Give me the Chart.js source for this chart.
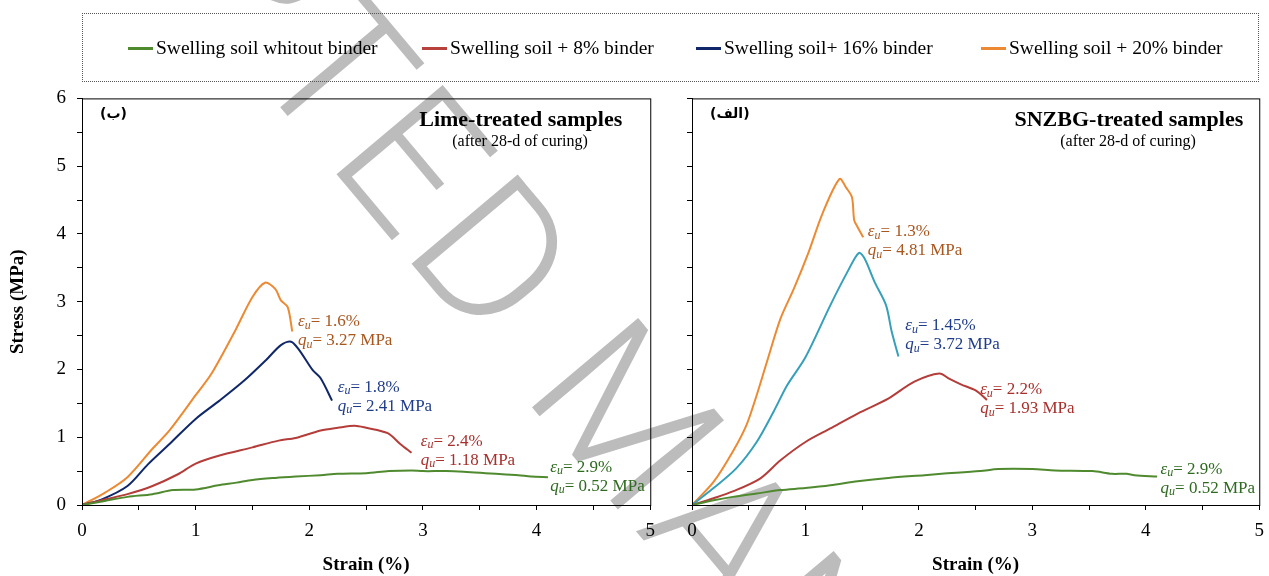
<!DOCTYPE html>
<html>
<head>
<meta charset="utf-8">
<script src="https://cdn.jsdelivr.net/npm/chart.js@4.4.1/dist/chart.umd.min.js"></script>
<style>
body { margin: 0; width: 1269px; height: 576px; position: relative; overflow: hidden; background: #fff; font-family: "Liberation Serif", "Times New Roman", serif; }
#mark { position: absolute; left: 0; top: 0; }
#left { position: absolute; left: 0; top: 76px; }
#right { position: absolute; left: 660px; top: 76px; }
.legend { position: absolute; left: 82px; top: 13px; width: 1175px; height: 67px; border: 1px dotted #555; }
.item { position: absolute; top: 23px; font-size: 19.5px; color: #000; white-space: nowrap; }
.item i { display: inline-block; width: 25px; height: 3px; vertical-align: middle; margin-right: 3px; position: relative; top: -1px; }
</style>
</head>
<body>
<canvas id="mark" width="1269" height="576"></canvas>
<div class="legend">
  <div class="item" style="left:45px"><i style="background:#4f8a2f"></i>Swelling soil whitout binder</div>
  <div class="item" style="left:339px"><i style="background:#b8403d"></i>Swelling soil + 8% binder</div>
  <div class="item" style="left:613px"><i style="background:#10286a"></i>Swelling soil+ 16% binder</div>
  <div class="item" style="left:898px"><i style="background:#ec8a33"></i>Swelling soil + 20% binder</div>
</div>
<canvas id="left" width="665" height="500"></canvas>
<canvas id="right" width="614" height="500"></canvas>
<script>
// tick values
const strainTicks = [0, 1, 2, 3, 4, 5];
const stressTicks = [0, 1, 2, 3, 4, 5, 6];

// lime-treated samples (left)
const limeStrain0 = [0, 0.1, 0.2, 0.4, 0.62, 0.8, 1.0, 1.2, 1.36, 1.5, 1.7, 1.88, 2.1, 2.25, 2.5, 2.7, 2.9, 3.0, 3.2, 3.36, 3.55, 3.73, 3.84, 3.95, 4.1];
const limeStress0 = [0, 0.03, 0.06, 0.12, 0.16, 0.22, 0.23, 0.29, 0.33, 0.37, 0.40, 0.42, 0.44, 0.46, 0.47, 0.50, 0.51, 0.50, 0.50, 0.49, 0.47, 0.45, 0.44, 0.42, 0.41];
const limeStrain8 = [0, 0.1, 0.2, 0.4, 0.62, 0.84, 1.0, 1.21, 1.5, 1.73, 1.88, 2.1, 2.25, 2.4, 2.5, 2.69, 2.8, 2.9];
const limeStress8 = [0, 0.04, 0.08, 0.16, 0.28, 0.45, 0.61, 0.73, 0.85, 0.95, 0.99, 1.10, 1.14, 1.17, 1.14, 1.06, 0.90, 0.77];
const limeStrain16 = [0, 0.17, 0.4, 0.58, 0.77, 1.0, 1.21, 1.43, 1.62, 1.75, 1.84, 1.91, 2.03, 2.1, 2.2];
const limeStress16 = [0, 0.08, 0.28, 0.60, 0.90, 1.27, 1.54, 1.84, 2.14, 2.36, 2.41, 2.29, 1.99, 1.87, 1.54];
const limeStrain20 = [0, 0.2, 0.4, 0.62, 0.77, 1.0, 1.14, 1.35, 1.5, 1.61, 1.70, 1.75, 1.81, 1.85];
const limeStress20 = [0, 0.18, 0.41, 0.83, 1.10, 1.62, 1.94, 2.58, 3.07, 3.28, 3.19, 3.02, 2.92, 2.56];

// SNZBG-treated samples (right)
const snzStrain0 = [0, 0.19, 0.36, 0.57, 0.78, 1.0, 1.22, 1.46, 1.73, 2.05, 2.2, 2.54, 2.7, 3.0, 3.2, 3.53, 3.7, 3.83, 3.9, 4.1];
const snzStress0 = [0, 0.07, 0.12, 0.17, 0.22, 0.25, 0.29, 0.35, 0.40, 0.44, 0.46, 0.50, 0.53, 0.53, 0.51, 0.50, 0.46, 0.46, 0.44, 0.42];
const snzStrain8 = [0, 0.19, 0.36, 0.6, 0.78, 1.0, 1.22, 1.46, 1.73, 1.96, 2.18, 2.27, 2.37, 2.5, 2.6];
const snzStress8 = [0, 0.10, 0.20, 0.39, 0.66, 0.93, 1.13, 1.35, 1.57, 1.82, 1.94, 1.86, 1.78, 1.69, 1.55];
const snzStrain16 = [0, 0.19, 0.39, 0.57, 0.72, 0.84, 1.0, 1.22, 1.37, 1.47, 1.52, 1.61, 1.71, 1.76, 1.82];
const snzStress16 = [0, 0.25, 0.54, 0.93, 1.38, 1.77, 2.18, 2.95, 3.44, 3.72, 3.64, 3.29, 2.95, 2.56, 2.19];
const snzStrain20 = [0, 0.19, 0.36, 0.48, 0.57, 0.66, 0.78, 0.9, 1.03, 1.15, 1.30, 1.36, 1.41, 1.43, 1.46, 1.51];
const snzStress20 = [0, 0.34, 0.79, 1.18, 1.62, 2.11, 2.75, 3.2, 3.74, 4.30, 4.81, 4.68, 4.54, 4.20, 4.10, 3.95];

// peak values written next to each curve
const limeEps = ['1.6%', '1.8%', '2.4%', '2.9%'];
const limeQu = ['3.27 MPa', '2.41 MPa', '1.18 MPa', '0.52 MPa'];
const snzEps = ['1.3%', '1.45%', '2.2%', '2.9%'];
const snzQu = ['4.81 MPa', '3.72 MPa', '1.93 MPa', '0.52 MPa'];

const pts = (xs, ys) => xs.map((x, i) => ({ x: x, y: ys[i] }));
const serif = '"Liberation Serif", "Times New Roman", serif';

// watermark behind everything, anchored on the stem of the second E
(function () {
  const ctx = document.getElementById('mark').getContext('2d');
  ctx.save();
  ctx.fillStyle = '#bcbcbc';
  ctx.font = '300 195px Roboto, "Open Sans", sans-serif';
  ctx.letterSpacing = '6px';
  ctx.translate(338, 176);
  ctx.rotate(50 * Math.PI / 180);
  const pre = ctx.measureText('ACCEPT').width;
  ctx.fillText('ACCEPTED MANUSCRIPT', -pre - 20, 0);
  ctx.restore();
})();

const framePlugin = {
  id: 'frame',
  afterDatasetsDraw(chart) {
    const a = chart.chartArea, ctx = chart.ctx;
    ctx.save();
    ctx.strokeStyle = '#000';
    ctx.lineWidth = 1;
    ctx.strokeRect(a.left + 0.5, a.top + 0.5, a.right - a.left, a.bottom - a.top);
    ctx.restore();
  }
};

const textPlugin = {
  id: 'panelText',
  afterDraw(chart, args, opts) {
    const ctx = chart.ctx, a = chart.chartArea;
    const xs = chart.scales.x, ys = chart.scales.y;
    ctx.save();
    ctx.fillStyle = '#000';
    ctx.textBaseline = 'middle';
    ctx.font = 'bold 22px ' + serif;
    ctx.textAlign = 'right';
    ctx.fillText(opts.title, a.right - opts.titleGap, a.top + 22);
    ctx.font = '16px ' + serif;
    ctx.textAlign = 'center';
    ctx.fillText('(after 28-d of curing)', opts.subX, a.top + 43);
    ctx.font = 'bold 14px "DejaVu Sans", sans-serif';
    ctx.textAlign = 'left';
    ctx.fillText(opts.tag, a.left + 18, a.top + 16);
    opts.notes.forEach(n => {
      let x = xs.getPixelForValue(n.x);
      let y1 = ys.getPixelForValue(n.y);
      ctx.fillStyle = n.color;
      ctx.textAlign = 'left';
      [[ 'ε', n.eps, y1 ], [ 'q', n.qu, y1 + 19 ]].forEach(row => {
        let px = x;
        ctx.font = 'italic 17px ' + serif;
        ctx.fillText(row[0], px, row[2]);
        px += ctx.measureText(row[0]).width;
        ctx.font = 'italic 12px ' + serif;
        ctx.fillText('u', px, row[2] + 4);
        px += ctx.measureText('u').width;
        ctx.font = '17px ' + serif;
        ctx.fillText('= ' + row[1], px, row[2]);
      });
    });
    ctx.restore();
  }
};

function axisX() {
  return {
    type: 'linear', min: 0, max: 5,
    afterFit: s => { s.height = 71; },
    ticks: {
      stepSize: 0.5, autoSkip: false, maxRotation: 0, padding: 10,
      color: '#000', font: { family: serif, size: 19 },
      callback: v => strainTicks.includes(v) ? v : ''
    },
    grid: { drawOnChartArea: false, color: '#000', tickLength: 5 },
    border: { color: '#000' },
    title: { display: true, text: 'Strain (%)', color: '#000', padding: { top: 0, bottom: 0 },
             font: { family: serif, size: 19, weight: 'bold' } }
  };
}

function axisY(showLabels, width) {
  return {
    type: 'linear', min: 0, max: 6,
    afterFit: s => { s.width = width; },
    ticks: {
      stepSize: 0.5, autoSkip: false, padding: 11,
      color: '#000', font: { family: serif, size: 19 },
      callback: v => (showLabels && stressTicks.includes(v)) ? v : ''
    },
    grid: { drawOnChartArea: false, color: '#000', tickLength: 5 },
    border: { color: '#000' },
    title: { display: showLabels, text: 'Stress (MPa)', color: '#000', padding: { top: 7, bottom: 0 },
             font: { family: serif, size: 19, weight: 'bold' } }
  };
}

function line(data, color) {
  return { data: data, borderColor: color, borderWidth: 2, pointRadius: 0, tension: 0.3, fill: false };
}

new Chart(document.getElementById('left'), {
  type: 'line',
  data: {
    datasets: [
      line(pts(limeStrain0, limeStress0), '#4f8a2f'),
      line(pts(limeStrain8, limeStress8), '#b43d3a'),
      line(pts(limeStrain16, limeStress16), '#10286a'),
      line(pts(limeStrain20, limeStress20), '#ec8a33')
    ]
  },
  options: {
    responsive: false, animation: false,
    layout: { padding: { top: 0, right: 5, left: 0, bottom: 0 } },
    scales: { x: axisX(), y: axisY(true, 82) },
    plugins: {
      legend: { display: false }, tooltip: { enabled: false },
      panelText: {
        title: 'Lime-treated samples', titleGap: 28, subX: 520, tag: '(ب)',
        notes: [
          { x: 1.9, y: 2.7, eps: limeEps[0], qu: limeQu[0], color: '#a9561f' },
          { x: 2.25, y: 1.74, eps: limeEps[1], qu: limeQu[1], color: '#1f3c8a' },
          { x: 2.98, y: 0.94, eps: limeEps[2], qu: limeQu[2], color: '#a8302c' },
          { x: 4.12, y: 0.56, eps: limeEps[3], qu: limeQu[3], color: '#2e6a1f' }
        ]
      }
    }
  },
  plugins: [framePlugin, textPlugin]
});

new Chart(document.getElementById('right'), {
  type: 'line',
  data: {
    datasets: [
      line(pts(snzStrain0, snzStress0), '#4f8a2f'),
      line(pts(snzStrain8, snzStress8), '#b43d3a'),
      line(pts(snzStrain16, snzStress16), '#36a0ba'),
      line(pts(snzStrain20, snzStress20), '#ec8a33')
    ]
  },
  options: {
    responsive: false, animation: false,
    layout: { padding: { top: 0, right: 5, left: 0, bottom: 0 } },
    scales: { x: axisX(), y: axisY(false, 32) },
    plugins: {
      legend: { display: false }, tooltip: { enabled: false },
      panelText: {
        title: 'SNZBG-treated samples', titleGap: 16, subX: 468, tag: '(الف)',
        notes: [
          { x: 1.55, y: 4.03, eps: snzEps[0], qu: snzQu[0], color: '#a9561f' },
          { x: 1.88, y: 2.65, eps: snzEps[1], qu: snzQu[1], color: '#1f3c8a' },
          { x: 2.54, y: 1.70, eps: snzEps[2], qu: snzQu[2], color: '#a8302c' },
          { x: 4.13, y: 0.53, eps: snzEps[3], qu: snzQu[3], color: '#2e6a1f' }
        ]
      }
    }
  },
  plugins: [framePlugin, textPlugin]
});
</script>
</body>
</html>
